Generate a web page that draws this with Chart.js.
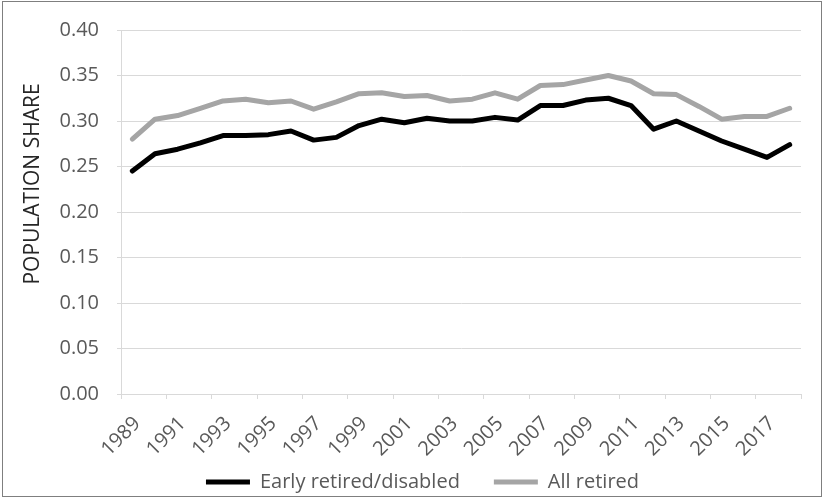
<!DOCTYPE html>
<html>
<head>
<meta charset="utf-8">
<script src="https://cdn.jsdelivr.net/npm/chart.js@4.4.1/dist/chart.umd.min.js"></script>
<style>
html,body{margin:0;padding:0;background:#fff;}
#wrap{width:825px;height:500px;position:relative;}
canvas{display:block;}
</style>
</head>
<body>
<div id="wrap"><canvas id="c" width="825" height="500"></canvas></div>
<script>
// ---- data ----
const years = ['1989','1990','1991','1992','1993','1994','1995','1996','1997','1998',
               '1999','2000','2001','2002','2003','2004','2005','2006','2007','2008',
               '2009','2010','2011','2012','2013','2014','2015','2016','2017','2018'];
const earlyRetired = [0.245,0.264,0.269,0.276,0.284,0.284,0.285,0.289,0.279,0.282,
                      0.295,0.302,0.298,0.303,0.300,0.300,0.304,0.301,0.317,0.317,
                      0.323,0.325,0.317,0.291,0.300,0.289,0.278,0.269,0.260,0.274];
const allRetired = [0.280,0.302,0.306,0.314,0.322,0.324,0.320,0.322,0.313,0.321,
                    0.330,0.331,0.327,0.328,0.322,0.324,0.331,0.324,0.339,0.340,
                    0.345,0.350,0.344,0.330,0.329,0.316,0.302,0.305,0.305,0.314];
const seriesNames = ['Early retired/disabled', 'All retired'];
const yAxisTitle = 'POPULATION SHARE';
const yMin = 0, yMax = 0.40, yStep = 0.05;

const FONT = 'Open Sans';
const TICK_COLOR = '#595959';
const GRID_COLOR = '#d9d9d9';

const framePlugin = {
  id: 'frame',
  beforeDraw(chart) {
    const ctx = chart.ctx;
    ctx.save();
    ctx.fillStyle = '#ffffff';
    ctx.fillRect(0, 0, chart.width, chart.height);
    ctx.restore();
  },
  afterDraw(chart) {
    const ctx = chart.ctx;
    ctx.save();
    ctx.strokeStyle = '#7f7f7f';
    ctx.lineWidth = 1;
    ctx.strokeRect(2.5, 1.5, 819, 495);
    ctx.restore();
  }
};

new Chart(document.getElementById('c'), {
  type: 'line',
  data: {
    labels: years,
    datasets: [
      {
        label: seriesNames[0],
        data: earlyRetired,
        borderColor: '#000000',
        backgroundColor: '#000000',
        borderWidth: 5,
        borderCapStyle: 'round',
        borderJoinStyle: 'round',
        pointRadius: 0,
        tension: 0,
        fill: false
      },
      {
        label: seriesNames[1],
        data: allRetired,
        borderColor: '#a5a5a5',
        backgroundColor: '#a5a5a5',
        borderWidth: 5,
        borderCapStyle: 'round',
        borderJoinStyle: 'round',
        pointRadius: 0,
        tension: 0,
        fill: false
      }
    ]
  },
  options: {
    responsive: false,
    devicePixelRatio: 1,
    animation: false,
    layout: { padding: { left: 20, right: 0, top: 22, bottom: -2 } },
    plugins: {
      tooltip: { enabled: false },
      legend: {
        position: 'bottom',
        labels: {
          usePointStyle: true,
          pointStyle: 'line',
          pointStyleWidth: 44,
          padding: 34,
          color: TICK_COLOR,
          font: { family: FONT, size: 20 }
        }
      }
    },
    scales: {
      x: {
        type: 'category',
        offset: true,
        grid: {
          offset: true,
          drawOnChartArea: false,
          drawTicks: true,
          tickLength: 5,
          color: (c) => (c.index === undefined || c.index % 2 === 0) ? GRID_COLOR : 'rgba(0,0,0,0)'
        },
        border: { color: GRID_COLOR, width: 1 },
        ticks: {
          autoSkip: false,
          minRotation: 45,
          maxRotation: 45,
          padding: 13,
          labelOffset: 5,
          color: TICK_COLOR,
          font: { family: FONT, size: 20 },
          callback: (v, i) => (i % 2 === 0 ? years[i] : '')
        },
        afterFit: (s) => {
          s.height = 44;
          // let the rotated year labels extend below the axis box (no clipping)
          s._computeLabelArea = () => undefined;
        }
      },
      y: {
        min: yMin,
        max: yMax,
        ticks: {
          stepSize: yStep,
          callback: (v) => Number(v).toFixed(2),
          color: TICK_COLOR,
          font: { family: FONT, size: 20 },
          padding: 18
        },
        grid: { color: GRID_COLOR, tickLength: 4 },
        border: { color: GRID_COLOR, width: 1 },
        title: {
          display: true,
          text: yAxisTitle,
          color: '#262626',
          font: { family: FONT, size: 21 },
          padding: { top: 0, bottom: 0 }
        },
        afterFit: (s) => {
          s.width = 101;
          if (!s._titleShifted) {
            s._titleShifted = true;
            const baseDrawTitle = Object.getPrototypeOf(s).drawTitle;
            s.drawTitle = function () {
              const t = this.top, b = this.bottom;
              this.top = t - 28; this.bottom = b - 28;
              baseDrawTitle.call(this);
              this.top = t; this.bottom = b;
            };
          }
        }
      },
      y2: {
        position: 'right',
        display: true,
        grid: { display: false },
        ticks: { display: false },
        border: { display: false },
        afterFit: (s) => { s.width = 24; }
      }
    }
  },
  plugins: [framePlugin]
});
</script>
</body>
</html>
